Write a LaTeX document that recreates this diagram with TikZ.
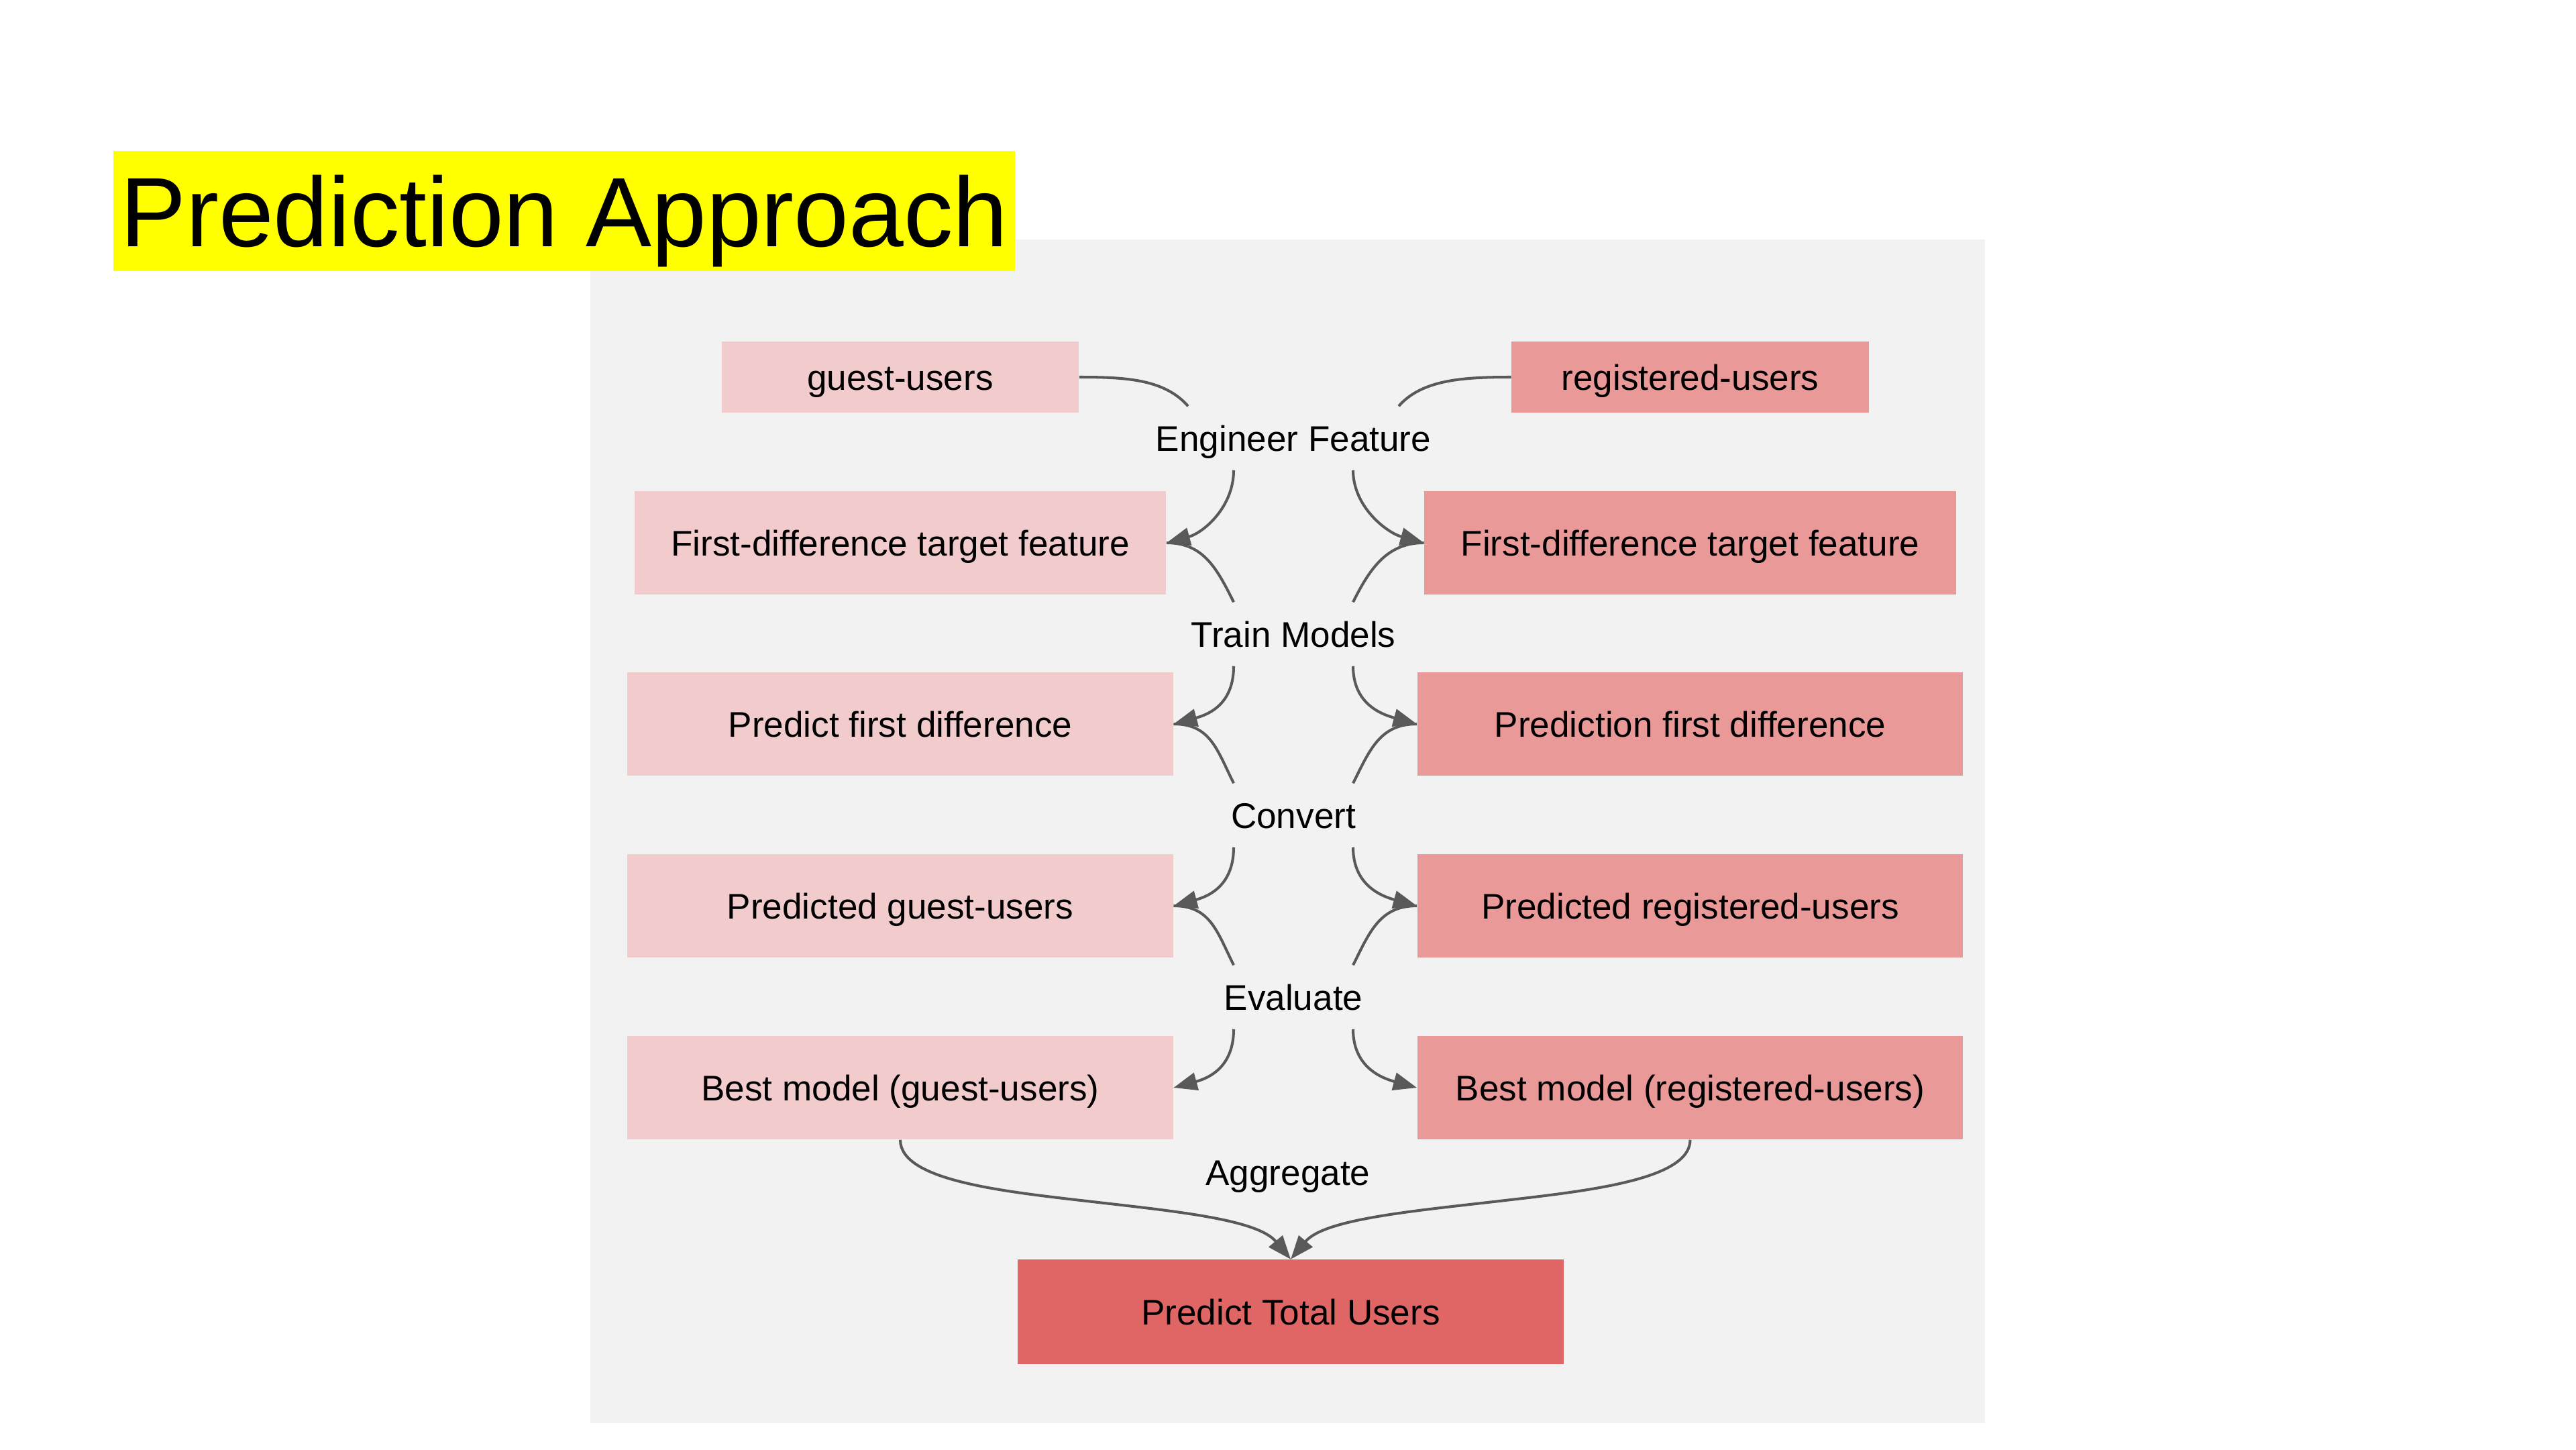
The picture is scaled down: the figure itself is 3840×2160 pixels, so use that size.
\documentclass[tikz,border=0pt]{standalone}
\usepackage{fontspec}
\setmainfont{Liberation Sans}
\usetikzlibrary{arrows.meta,calc}
\definecolor{guestfill}{HTML}{F2CCCC}
\definecolor{regfill}{HTML}{EA9999}
\definecolor{totalfill}{HTML}{E06666}
\definecolor{panelgray}{HTML}{F2F2F2}
\definecolor{edgegray}{HTML}{595959}
\definecolor{titleyellow}{HTML}{FFFF00}
\begin{document}
\begin{tikzpicture}[x=0.01cm,y=-0.01cm,
  txt/.style={text height=12.5pt, text depth=1.6pt, text=black},
  box/.style={txt, inner sep=0pt, font=\fontsize{15.1}{18}\selectfont},
  guest/.style={box, fill=guestfill},
  reg/.style={box, fill=regfill},
  total/.style={box, fill=totalfill},
  small/.style={minimum width=5.32cm, minimum height=1.06cm},
  wide/.style={minimum width=7.92cm, minimum height=1.54cm},
  wider/.style={minimum width=8.13cm, minimum height=1.54cm},
  steplabel/.style={txt, inner sep=0pt, minimum width=1.78cm, minimum height=0.94cm,
    font=\fontsize{15.1}{18}\selectfont},
  flow/.style={draw=edgegray, line width=1.15pt},
  flowarrow/.style={flow, -{Triangle[length=10pt,width=7.5pt]}},
]
\useasboundingbox (0,0) rectangle (3840,2160);
\fill[white] (0,0) rectangle (3840,2160);

% panel behind the flow
\fill[panelgray] (880,357) rectangle (2959,2121);

% title
\node[fill=titleyellow, minimum width=13.44cm, minimum height=1.79cm, inner sep=0pt,
  text height=34pt, text depth=3.9pt, text=black,
  font=\fontsize{41.8}{50}\selectfont] (title) at (841,314.5) {Prediction Approach};

% guest-users branch
\node[guest, small] (g1) at (1342,562) {guest-users};
\node[guest, wide]  (g2) at (1342,809) {First-difference target feature};
\node[guest, wider] (g3) at (1342,1079) {Predict first difference};
\node[guest, wider] (g4) at (1342,1350) {Predicted guest-users};
\node[guest, wider] (g5) at (1342,1621) {Best model (guest-users)};

% registered-users branch
\node[reg, small] (r1) at (2519.5,562) {registered-users};
\node[reg, wide]  (r2) at (2519.5,809) {First-difference target feature};
\node[reg, wider] (r3) at (2519.5,1079) {Prediction first difference};
\node[reg, wider] (r4) at (2519.5,1350) {Predicted registered-users};
\node[reg, wider] (r5) at (2519.5,1621) {Best model (registered-users)};

% result
\node[total, wider, minimum height=1.55cm] (tot) at (1924,1955) {Predict Total Users};

% step labels
\node[steplabel] (ef) at (1928,653)  {Engineer Feature};
\node[steplabel] (tm) at (1928,945)  {Train Models};
\node[steplabel] (cv) at (1928,1215) {Convert};
\node[steplabel] (ev) at (1928,1486) {Evaluate};
\node[steplabel] (ag) at (1920,1747) {Aggregate};

% Engineer Feature
\draw[flow] (g1.east) .. controls +(70,0) and +(-35,-40) .. ($(ef.north)+(-157,0)$);
\draw[flowarrow] ($(ef.south)+(-89,0)$) .. controls +(0,55) and +(55,-15) .. (g2.east);
\draw[flow] (r1.west) .. controls +(-70,0) and +(35,-40) .. ($(ef.north)+(157,0)$);
\draw[flowarrow] ($(ef.south)+(89,0)$) .. controls +(0,55) and +(-55,-15) .. (r2.west);

% Train Models
\draw[flow] (g2.east) .. controls +(55,0) and +(-25,-50) .. ($(tm.north)+(-89,0)$);
\draw[flowarrow] ($(tm.south)+(-89,0)$) .. controls +(0,55) and +(55,-15) .. (g3.east);
\draw[flow] (r2.west) .. controls +(-55,0) and +(25,-50) .. ($(tm.north)+(89,0)$);
\draw[flowarrow] ($(tm.south)+(89,0)$) .. controls +(0,55) and +(-55,-15) .. (r3.west);

% Convert
\draw[flow] (g3.east) .. controls +(55,0) and +(-25,-50) .. ($(cv.north)+(-89,0)$);
\draw[flowarrow] ($(cv.south)+(-89,0)$) .. controls +(0,55) and +(55,-15) .. (g4.east);
\draw[flow] (r3.west) .. controls +(-55,0) and +(25,-50) .. ($(cv.north)+(89,0)$);
\draw[flowarrow] ($(cv.south)+(89,0)$) .. controls +(0,55) and +(-55,-15) .. (r4.west);

% Evaluate
\draw[flow] (g4.east) .. controls +(55,0) and +(-25,-50) .. ($(ev.north)+(-89,0)$);
\draw[flowarrow] ($(ev.south)+(-89,0)$) .. controls +(0,55) and +(55,-15) .. (g5.east);
\draw[flow] (r4.west) .. controls +(-55,0) and +(25,-50) .. ($(ev.north)+(89,0)$);
\draw[flowarrow] ($(ev.south)+(89,0)$) .. controls +(0,55) and +(-55,-15) .. (r5.west);

% Aggregate
\draw[flowarrow] (g5.south) .. controls +(0,60) and +(-130,-15) .. (1620,1790)
  .. controls +(130,15) and +(-50,-60) .. (tot.north);
\draw[flowarrow] (r5.south) .. controls +(0,60) and +(130,-15) .. (2235,1790)
  .. controls +(-130,15) and +(50,-60) .. (tot.north);
\end{tikzpicture}
\end{document}
